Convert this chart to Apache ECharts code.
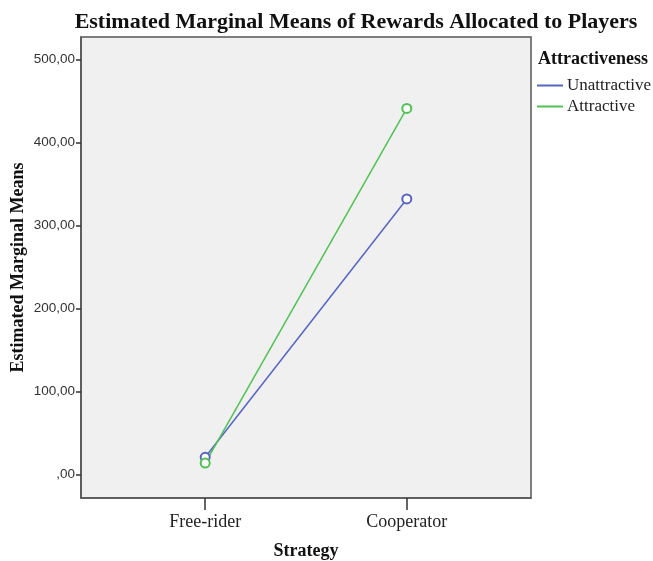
<!DOCTYPE html>
<html><head><meta charset="utf-8">
<script src="https://cdn.jsdelivr.net/npm/echarts@6/dist/echarts.min.js"></script>
<style>html,body{margin:0;padding:0;background:#fff}#c{width:653px;height:561px}</style>
</head><body><div id="c"></div>
<script>
var categories = ['Free-rider', 'Cooperator'];
var seriesNames = ['Unattractive', 'Attractive'];
var unattractive = [21, 332];
var attractive = [14, 441];
var yTicks = [0, 100, 200, 300, 400, 500];

var colors = ['#5565c4', '#4fc253'];
function toPts(arr){ return arr.map(function(v,i){ return [i, v]; }); }

var chart = echarts.init(document.getElementById('c'));
chart.setOption({
  animation: false,
  title: [{
    text: 'Estimated Marginal Means of Rewards Allocated to Players',
    left: 351, top: 6, textAlign: 'center',
    textStyle: {fontFamily: 'Liberation Serif', fontWeight: 'bold', fontSize: 22, color: '#111'}
  }, {
    text: 'Attractiveness', left: 533, top: 45,
    textStyle: {fontFamily: 'Liberation Serif', fontWeight: 'bold', fontSize: 18, color: '#111'}
  }],
  legend: {
    orient: 'vertical', left: 532, top: 72, itemGap: 4,
    icon: 'rect', itemWidth: 26, itemHeight: 2,
    textStyle: {fontFamily: 'Liberation Serif', fontSize: 17, color: '#222', padding: [0,0,0,-1]},
    data: seriesNames
  },
  grid: {left: 81, top: 37, width: 450, height: 461, show: true, backgroundColor: '#f0f0f0', borderColor: '#555', borderWidth: 1.5, outerBoundsMode: 'none', containLabel: false},
  xAxis: {
    type: 'value', min: -0.616, max: 1.616,
    name: 'Strategy', nameLocation: 'middle', nameGap: 44, nameMoveOverlap: false,
    nameTextStyle: {fontFamily: 'Liberation Serif', fontWeight: 'bold', fontSize: 18, color: '#111'},
    axisLine: {show: true, onZero: false, lineStyle: {color: '#555', width: 1.5}},
    splitLine: {show: false},
    axisTick: {show: true, length: 12, customValues: [0, 1], lineStyle: {color: '#333', width: 1.5}},
    axisLabel: {customValues: [0, 1], margin: 15, fontFamily: 'Liberation Serif', fontSize: 18, color: '#222',
      formatter: function(v){ return categories[Math.round(v)]; }}
  },
  yAxis: {
    type: 'value', min: -28, max: 527,
    name: 'Estimated Marginal Means', nameLocation: 'middle', nameGap: 54, nameRotate: 90, nameMoveOverlap: false,
    nameTextStyle: {fontFamily: 'Liberation Serif', fontWeight: 'bold', fontSize: 18, color: '#111'},
    axisLine: {show: true, onZero: false, lineStyle: {color: '#555', width: 1.5}},
    splitLine: {show: false},
    axisTick: {show: true, length: 5, customValues: yTicks, lineStyle: {color: '#333', width: 1.5}},
    axisLabel: {customValues: yTicks, margin: 6, fontFamily: 'Liberation Sans', fontSize: 13.5, color: '#333',
      formatter: function(v){ return v === 0 ? ',00' : v + ',00'; }}
  },
  series: [{
    name: seriesNames[0], type: 'line', data: toPts(unattractive),
    symbol: 'emptyCircle', symbolSize: 9, color: colors[0],
    lineStyle: {width: 1.5, color: colors[0]}, itemStyle: {color: colors[0], borderWidth: 1.5}
  }, {
    name: seriesNames[1], type: 'line', data: toPts(attractive),
    symbol: 'emptyCircle', symbolSize: 9, color: colors[1],
    lineStyle: {width: 1.5, color: colors[1]}, itemStyle: {color: colors[1], borderWidth: 1.5}
  }]
});
</script></body></html>
